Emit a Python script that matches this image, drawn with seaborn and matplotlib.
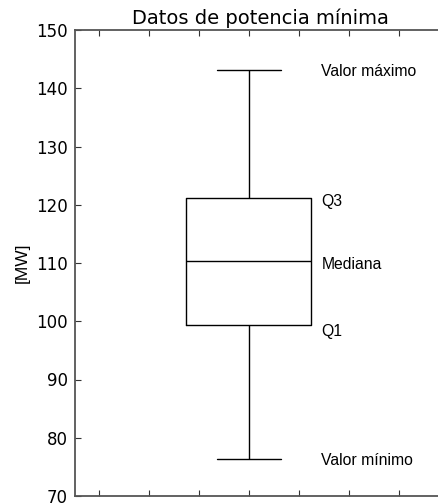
import matplotlib
matplotlib.use("Agg")
import matplotlib.pyplot as plt
import seaborn as sns
import pandas as pd

# Five-number summary of the minimum-power data [MW]
valores = [76.4, 99.4, 110.3, 121.1, 143.2]
etiquetas = ["Valor mínimo", "Q1", "Mediana", "Q3", "Valor máximo"]
posicion_texto = [76.1, 98.2, 109.8, 120.6, 142.8]

sns.set_theme(style="white")
plt.rcParams["font.family"] = ["DejaVu Sans"]
plt.rcParams.update({"text.color": "black", "axes.labelcolor": "black",
                     "xtick.color": "black", "ytick.color": "black"})

df = pd.DataFrame({"MW": valores})

W, H = 439, 504
fig = plt.figure(figsize=(W / 100, H / 100), dpi=100)
left, right, top, bottom = 75, 446, 30, 496
ax = fig.add_axes([left / W, (H - bottom) / H, (right - left) / W, (bottom - top) / H])

sns.boxplot(data=df, y="MW", ax=ax, whis=(0, 100), width=0.5, fill=False,
            color="black", linewidth=1.0, showcaps=True,
            capprops=dict(color="black"), whiskerprops=dict(color="black"),
            medianprops=dict(color="black"), boxprops=dict(color="black"))

# Cap lines half the box width
for ln in ax.lines:
    xd = ln.get_xdata()
    if len(xd) == 2 and xd[0] != xd[1] and abs(xd[1] - xd[0]) < 0.45:
        c = (xd[0] + xd[1]) / 2
        ln.set_xdata([c - 0.128, c + 0.128])

ax.set_ylim(70, 150)
ax.set_xlim(-0.696, (right - 249) / 250)
ax.set_yticks(range(70, 151, 10))
ax.set_xticks([-0.6, -0.4, -0.2, 0.0, 0.2, 0.4, 0.6])
ax.set_xticklabels([])
ax.set_xlabel("")
ax.tick_params(axis="both", direction="in", length=4, width=0.8, color="#333333",
               labelsize=12, top=True, bottom=True, left=True, right=True, pad=5)
for s in ax.spines.values():
    s.set_color("#555555")
    s.set_linewidth(1.3)

ax.set_ylabel("[MW]", fontsize=12.5, family="Liberation Sans", labelpad=5)
ax.set_title("Datos de potencia mínima", fontsize=14, pad=4)

for txt, yv in zip(etiquetas, posicion_texto):
    ax.text(0.29, yv, txt, fontsize=11.3, family="Liberation Sans",
            va="center", ha="left", color="black")

fig.savefig("out.png", dpi=100)
